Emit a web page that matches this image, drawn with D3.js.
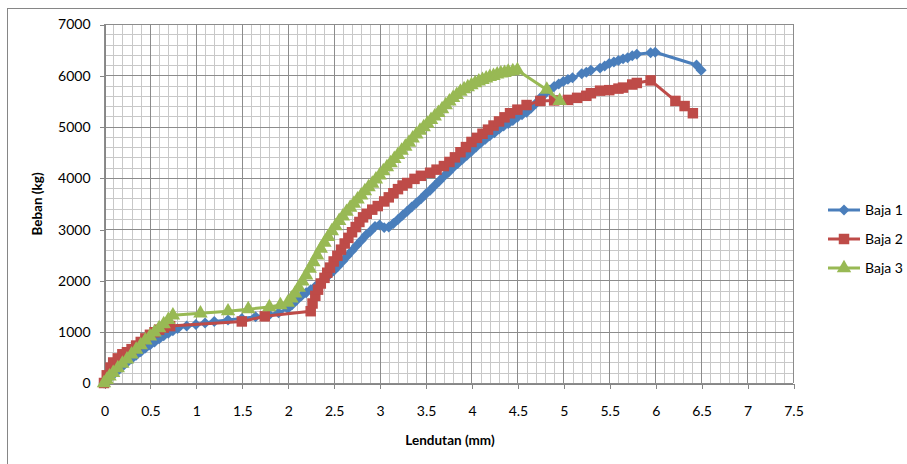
<!DOCTYPE html>
<html lang="id">
	<head>
		<meta charset="utf-8">
		<title>Beban - Lendutan</title>
		<script type="text/javascript" src="https://cdn.jsdelivr.net/npm/d3@7"></script>
		<style type="text/css">
			body {
				margin: 0;
				background: white;
				font-family: Lato, "Open Sans", sans-serif;
			}
		</style>
	</head>
	<body>
		<script type="text/javascript">

			// data (lendutan in mm, beban in kg)
			var baja1X = [0, 0.05, 0.1, 0.15, 0.2, 0.25, 0.3, 0.35, 0.4, 0.45, 0.5, 0.55, 0.6, 0.65, 0.7, 0.75, 0.8, 0.9, 1.0, 1.1, 1.2, 1.35, 1.5, 1.65, 1.8, 1.9,
				2.0, 2.05, 2.1, 2.15, 2.2, 2.25, 2.3, 2.35, 2.4, 2.45, 2.5, 2.55, 2.6, 2.65, 2.7, 2.75, 2.8, 2.85, 2.9, 2.95, 3.0, 3.05, 3.1, 3.15,
				3.2, 3.25, 3.3, 3.35, 3.4, 3.45, 3.5, 3.55, 3.6, 3.65, 3.7, 3.75, 3.8, 3.85, 3.9, 3.95, 4.0, 4.05, 4.1, 4.15, 4.2, 4.25, 4.3, 4.35,
				4.4, 4.45, 4.5, 4.55, 4.6, 4.65, 4.7, 4.75, 4.8, 4.85, 4.9, 4.95, 5.0, 5.05, 5.1, 5.2, 5.25, 5.3, 5.4, 5.45, 5.5, 5.55, 5.6, 5.65,
				5.7, 5.75, 5.8, 5.95, 6.0, 6.45, 6.5];
			var baja1Y = [0, 80, 160, 240, 320, 400, 470, 540, 610, 680, 740, 800, 860, 920, 970, 1020, 1060, 1110, 1140, 1170, 1200, 1230, 1260, 1290, 1330, 1370,
				1450, 1530, 1620, 1700, 1760, 1820, 1880, 1950, 2030, 2110, 2190, 2280, 2380, 2480, 2580, 2680, 2780, 2880, 2960, 3050, 3080, 3030, 3040, 3110,
				3190, 3270, 3350, 3430, 3510, 3590, 3680, 3760, 3850, 3940, 4030, 4110, 4200, 4280, 4360, 4440, 4520, 4600, 4680, 4750, 4820, 4880, 4950, 5010,
				5060, 5120, 5180, 5230, 5280, 5360, 5450, 5560, 5640, 5710, 5780, 5830, 5880, 5920, 5950, 6030, 6060, 6100, 6140, 6180, 6230, 6260, 6290, 6320,
				6340, 6380, 6410, 6440, 6450, 6200, 6100];

			var baja2X = [0, 0.03, 0.07, 0.1, 0.15, 0.2, 0.25, 0.3, 0.35, 0.4, 0.45, 0.5, 0.55, 0.6, 0.65, 0.72, 1.5, 1.75, 2.25,
				2.27, 2.3, 2.33, 2.36, 2.4, 2.43, 2.46, 2.5, 2.54, 2.58, 2.62, 2.66, 2.7, 2.74, 2.78, 2.82, 2.86, 2.92, 2.98, 3.05, 3.1,
				3.15, 3.2, 3.25, 3.3, 3.38, 3.45, 3.55, 3.62, 3.7, 3.76, 3.82, 3.88, 3.94, 4.0, 4.06, 4.12, 4.18, 4.24, 4.3, 4.36,
				4.42, 4.5, 4.6, 4.75, 4.9, 5.05, 5.15, 5.25, 5.3, 5.4, 5.5, 5.6, 5.65, 5.75, 5.8, 5.95, 6.22, 6.32, 6.41];
			var baja2Y = [0, 150, 300, 400, 480, 560, 600, 660, 730, 800, 870, 940, 990, 1040, 1080, 1110, 1200, 1300, 1400,
				1550, 1700, 1820, 1940, 2050, 2150, 2250, 2370, 2480, 2600, 2720, 2830, 2940, 3040, 3140, 3230, 3300, 3380, 3450, 3540, 3620,
				3700, 3780, 3850, 3900, 3980, 4040, 4100, 4160, 4230, 4310, 4400, 4500, 4600, 4700, 4780, 4860, 4940, 5020, 5100, 5180,
				5260, 5330, 5420, 5500, 5510, 5520, 5560, 5600, 5650, 5700, 5710, 5740, 5760, 5820, 5850, 5900, 5500, 5400, 5260];

			var baja3X = [0, 0.03, 0.06, 0.1, 0.15, 0.2, 0.25, 0.3, 0.35, 0.4, 0.45, 0.5, 0.55, 0.6, 0.65, 0.7, 0.75, 1.05, 1.35, 1.57, 1.8, 1.92,
				2.0, 2.04, 2.08, 2.12, 2.16, 2.2, 2.24, 2.28, 2.32, 2.36, 2.4, 2.44, 2.48, 2.52, 2.56, 2.6, 2.64, 2.68, 2.72, 2.76, 2.8, 2.84,
				2.88, 2.92, 2.96, 3.0, 3.04, 3.08, 3.12, 3.16, 3.2, 3.24, 3.28, 3.32, 3.36, 3.4, 3.44, 3.48, 3.52, 3.56, 3.6, 3.64, 3.68,
				3.72, 3.76, 3.8, 3.84, 3.88, 3.92, 3.96, 4.0, 4.04, 4.08, 4.12, 4.16, 4.2, 4.24, 4.28, 4.32, 4.36, 4.4, 4.45, 4.5, 4.82, 4.96];
			var baja3Y = [0, 60, 130, 200, 290, 380, 460, 560, 650, 740, 830, 910, 990, 1070, 1150, 1230, 1320, 1360, 1400, 1440, 1480, 1520,
				1570, 1650, 1750, 1860, 1980, 2100, 2230, 2360, 2490, 2620, 2740, 2850, 2960, 3060, 3160, 3250, 3340, 3420, 3500, 3580, 3660, 3740,
				3820, 3890, 3970, 4050, 4130, 4210, 4290, 4370, 4450, 4530, 4610, 4690, 4770, 4850, 4920, 4990, 5060, 5130, 5200, 5270, 5340,
				5420, 5490, 5560, 5620, 5680, 5730, 5770, 5810, 5850, 5880, 5910, 5940, 5970, 5990, 6020, 6040, 6050, 6070, 6080, 6100, 5720, 5500];

			var seriesNames = ["Baja 1", "Baja 2", "Baja 3"];
			var xTicks = [0, 0.5, 1, 1.5, 2, 2.5, 3, 3.5, 4, 4.5, 5, 5.5, 6, 6.5, 7, 7.5];
			var yTicks = [0, 1000, 2000, 3000, 4000, 5000, 6000, 7000];

			var w = 907;
			var h = 464;
			var colors = ["#4a7ebb", "#be4b48", "#98b954"];

			var series = [
				{ name: seriesNames[0], xs: baja1X, ys: baja1Y, shape: "diamond" },
				{ name: seriesNames[1], xs: baja2X, ys: baja2Y, shape: "square" },
				{ name: seriesNames[2], xs: baja3X, ys: baja3Y, shape: "triangle" }
			];
			series.forEach(function(s, i) {
				s.color = colors[i];
				s.points = s.xs.map(function(x, j) { return [x, s.ys[j]]; });
			});

			var xScale = d3.scaleLinear().domain([0, 7.5]).range([104, 793]);
			var yScale = d3.scaleLinear().domain([0, 7000]).range([383, 24]);

			var svg = d3.select("body")
						.append("svg")
						.attr("width", w)
						.attr("height", h);

			// chart frame
			svg.append("rect")
			   .attr("x", 7.5).attr("y", 8.5)
			   .attr("width", 905).attr("height", 462)
			   .attr("fill", "none")
			   .attr("stroke", "#868686");

			// minor grid
			var minorX = d3.range(0, 76).map(function(i) { return i / 10; });
			var minorY = d3.range(0, 36).map(function(i) { return i * 200; });
			var grid = svg.append("g").attr("shape-rendering", "crispEdges");
			grid.selectAll(".mx").data(minorX).enter().append("line")
				.attr("x1", function(d) { return Math.round(xScale(d)) + 0.5; })
				.attr("x2", function(d) { return Math.round(xScale(d)) + 0.5; })
				.attr("y1", yScale(7000)).attr("y2", yScale(0))
				.attr("stroke", "#c8c8c8");
			grid.selectAll(".my").data(minorY).enter().append("line")
				.attr("y1", function(d) { return Math.round(yScale(d)) + 0.5; })
				.attr("y2", function(d) { return Math.round(yScale(d)) + 0.5; })
				.attr("x1", xScale(0)).attr("x2", xScale(7.5))
				.attr("stroke", "#c8c8c8");
			// major grid
			grid.selectAll(".Mx").data(xTicks).enter().append("line")
				.attr("x1", function(d) { return Math.round(xScale(d)) + 0.5; })
				.attr("x2", function(d) { return Math.round(xScale(d)) + 0.5; })
				.attr("y1", yScale(7000)).attr("y2", yScale(0))
				.attr("stroke", "#8c8c8c");
			grid.selectAll(".My").data(yTicks).enter().append("line")
				.attr("y1", function(d) { return Math.round(yScale(d)) + 0.5; })
				.attr("y2", function(d) { return Math.round(yScale(d)) + 0.5; })
				.attr("x1", xScale(0)).attr("x2", xScale(7.5))
				.attr("stroke", "#8c8c8c");

			// axes
			var xAxis = d3.axisBottom(xScale).tickValues(xTicks).tickSize(5).tickPadding(18)
						  .tickFormat(d3.format("~g"));
			var yAxis = d3.axisLeft(yScale).tickValues(yTicks).tickSize(5).tickPadding(9)
						  .tickFormat(d3.format("d"));
			var gx = svg.append("g").attr("transform", "translate(0.5," + (Math.round(yScale(0)) + 0.5) + ")").call(xAxis);
			var gy = svg.append("g").attr("transform", "translate(" + (Math.round(xScale(0)) + 0.5) + ",0.5)").call(yAxis);
			[gx, gy].forEach(function(g) {
				g.selectAll("path, line").attr("stroke", "#868686").attr("shape-rendering", "crispEdges");
				g.selectAll("text").attr("font-family", "Lato, sans-serif").attr("font-size", "14px").attr("fill", "#000");
			});

			// axis titles
			svg.append("text")
			   .attr("x", 450).attr("y", 445)
			   .attr("text-anchor", "middle")
			   .attr("font-family", "Lato, sans-serif")
			   .attr("font-weight", "bold")
			   .attr("font-size", "13.5px")
			   .text("Lendutan (mm)");
			svg.append("text")
			   .attr("transform", "translate(42,204) rotate(-90)")
			   .attr("text-anchor", "middle")
			   .attr("font-family", "Lato, sans-serif")
			   .attr("font-weight", "bold")
			   .attr("font-size", "13.5px")
			   .text("Beban (kg)");

			function markerPath(shape) {
				if (shape === "square") return d3.symbol().type(d3.symbolSquare).size(110)();
				if (shape === "triangle") return d3.symbol().type(d3.symbolTriangle).size(90)();
				return d3.symbol().type(d3.symbolSquare).size(60)();
			}
			function markerRotate(shape) {
				return shape === "diamond" ? " rotate(45)" : "";
			}

			var line = d3.line()
						 .x(function(d) { return xScale(d[0]); })
						 .y(function(d) { return yScale(d[1]); });

			//Create series
			series.forEach(function(s) {
				var g = svg.append("g");
				g.append("path")
				 .attr("d", line(s.points))
				 .attr("fill", "none")
				 .attr("stroke", s.color)
				 .attr("stroke-width", 3)
				 .attr("stroke-linejoin", "round");
				g.selectAll("path.m")
				 .data(s.points)
				 .enter()
				 .append("path")
				 .attr("class", "m")
				 .attr("d", markerPath(s.shape))
				 .attr("transform", function(d) {
				 	return "translate(" + xScale(d[0]) + "," + yScale(d[1]) + ")" + markerRotate(s.shape);
				 })
				 .attr("fill", s.color);
			});

			//Legend
			var legend = svg.append("g");
			series.forEach(function(s, i) {
				var ly = 210 + i * 29;
				legend.append("line")
					  .attr("x1", 828).attr("x2", 860)
					  .attr("y1", ly).attr("y2", ly)
					  .attr("stroke", s.color)
					  .attr("stroke-width", 3);
				legend.append("path")
					  .attr("d", markerPath(s.shape))
					  .attr("transform", "translate(844," + ly + ")" + markerRotate(s.shape))
					  .attr("fill", s.color);
				legend.append("text")
					  .attr("x", 865).attr("y", ly + 5)
					  .attr("font-family", "Lato, sans-serif")
					  .attr("font-size", "14px")
					  .text(s.name);
			});

		</script>
	</body>
</html>
